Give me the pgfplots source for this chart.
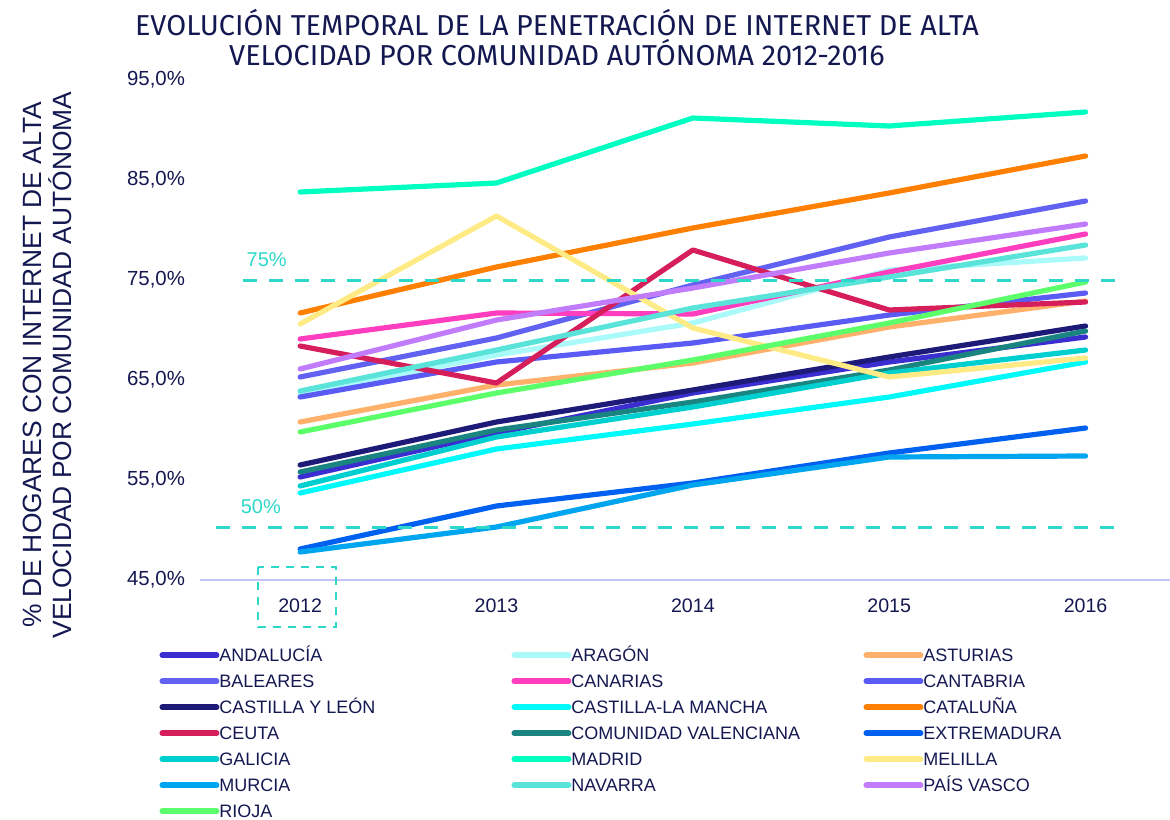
\documentclass[border=0pt]{standalone}
\usepackage{fontspec}
\setmainfont{Liberation Sans}
\newfontfamily\titlefont{Fira Sans}
\usepackage{pgfplots}
\pgfplotsset{compat=1.18}
\definecolor{navy}{HTML}{141850}
\definecolor{lav}{HTML}{C4C4F8}
\definecolor{turq}{HTML}{2ED8C8}
\definecolor{cAnd}{HTML}{3A2ED0}
\definecolor{cAra}{HTML}{AAFAFA}
\definecolor{cAst}{HTML}{FFB06A}
\definecolor{cBal}{HTML}{6262F2}
\definecolor{cCan}{HTML}{FF3DBF}
\definecolor{cCnt}{HTML}{5A5AF5}
\definecolor{cCyL}{HTML}{1E1A78}
\definecolor{cCLM}{HTML}{00FAFA}
\definecolor{cCat}{HTML}{FF8000}
\definecolor{cCeu}{HTML}{D61E5A}
\definecolor{cCV}{HTML}{1A8580}
\definecolor{cExt}{HTML}{0060F0}
\definecolor{cGal}{HTML}{00CFCF}
\definecolor{cMad}{HTML}{00FFC0}
\definecolor{cMel}{HTML}{FFEB85}
\definecolor{cMur}{HTML}{00A5F0}
\definecolor{cNav}{HTML}{5AE3D8}
\definecolor{cPV}{HTML}{C07CFA}
\definecolor{cRio}{HTML}{5CFF6A}
\newcommand{\legtxt}[1]{\makebox[146pt][l]{#1}}
\begin{document}
\begin{tikzpicture}
\begin{axis}[
  name=ax,
  scale only axis,
  width=485pt, height=250pt,
  xmin=2011.49, xmax=2016.43,
  ymin=45, ymax=95,
  clip=false,
  axis x line*=bottom, axis y line*=left,
  x axis line style={draw=lav, line width=1pt},
  y axis line style={draw=none},
  major tick length=0pt,
  xtick={2012,2013,2014,2015,2016},
  xticklabels={2012,2013,2014,2015,2016},
  ytick={45,55,65,75,85,95},
  yticklabels={{45,0\%},{55,0\%},{65,0\%},{75,0\%},{85,0\%},{95,0\%}},
  xticklabel style={font=\fontsize{9.8}{11}\selectfont, text=navy, yshift=-6pt},
  yticklabel style={font=\fontsize{10.2}{11}\selectfont, text=navy, xshift=-4pt},
  every axis plot/.append style={line width=2.6pt, line cap=round, line join=round, mark=none},
  legend columns=3,
  legend style={at={(axis description cs:-0.0484,-0.122)}, anchor=north west, draw=none, fill=none,
    font=\fontsize{9}{10}\selectfont, text=navy,
    nodes={inner ysep=1.5pt, inner xsep=0pt, text height=6.5pt, text depth=1.5pt},
    /tikz/column sep=0pt, /tikz/row sep=2pt},
  legend image code/.code={\draw[#1, line width=3pt, line cap=round] (0pt,0.6pt) -- (27pt,0.6pt);},
]
\addplot[cAnd] coordinates {(2012,55.3)(2013,59.7)(2014,63.7)(2015,66.8)(2016,69.3)};
\addlegendentry{\legtxt{ANDALUCÍA}}
\addplot[cAra] coordinates {(2012,63.6)(2013,67.5)(2014,70.7)(2015,76.0)(2016,77.2)};
\addlegendentry{\legtxt{ARAGÓN}}
\addplot[cAst] coordinates {(2012,60.8)(2013,64.5)(2014,66.7)(2015,70.3)(2016,72.9)};
\addlegendentry{\legtxt{ASTURIAS}}
\addplot[cBal] coordinates {(2012,65.3)(2013,69.2)(2014,74.5)(2015,79.3)(2016,82.9)};
\addlegendentry{\legtxt{BALEARES}}
\addplot[cCan] coordinates {(2012,69.1)(2013,71.7)(2014,71.6)(2015,75.8)(2016,79.6)};
\addlegendentry{\legtxt{CANARIAS}}
\addplot[cCnt] coordinates {(2012,63.3)(2013,66.8)(2014,68.7)(2015,71.5)(2016,73.7)};
\addlegendentry{\legtxt{CANTABRIA}}
\addplot[cCyL] coordinates {(2012,56.5)(2013,60.8)(2014,64.0)(2015,67.3)(2016,70.4)};
\addlegendentry{\legtxt{CASTILLA Y LEÓN}}
\addplot[cCLM] coordinates {(2012,53.7)(2013,58.1)(2014,60.6)(2015,63.3)(2016,66.8)};
\addlegendentry{\legtxt{CASTILLA-LA MANCHA}}
\addplot[cCat] coordinates {(2012,71.7)(2013,76.3)(2014,80.2)(2015,83.7)(2016,87.4)};
\addlegendentry{\legtxt{CATALUÑA}}
\addplot[cCeu] coordinates {(2012,68.4)(2013,64.7)(2014,78.0)(2015,72.0)(2016,72.8)};
\addlegendentry{\legtxt{CEUTA}}
\addplot[cCV] coordinates {(2012,55.8)(2013,60.0)(2014,62.8)(2015,66.0)(2016,69.9)};
\addlegendentry{\legtxt{COMUNIDAD VALENCIANA}}
\addplot[cExt] coordinates {(2012,48.1)(2013,52.4)(2014,54.7)(2015,57.7)(2016,60.2)};
\addlegendentry{\legtxt{EXTREMADURA}}
\addplot[cGal] coordinates {(2012,54.4)(2013,59.3)(2014,62.3)(2015,65.7)(2016,68.0)};
\addlegendentry{\legtxt{GALICIA}}
\addplot[cMad] coordinates {(2012,83.8)(2013,84.7)(2014,91.2)(2015,90.4)(2016,91.8)};
\addlegendentry{\legtxt{MADRID}}
\addplot[cMel] coordinates {(2012,70.6)(2013,81.4)(2014,70.2)(2015,65.3)(2016,67.2)};
\addlegendentry{\legtxt{MELILLA}}
\addplot[cMur] coordinates {(2012,47.8)(2013,50.3)(2014,54.5)(2015,57.3)(2016,57.4)};
\addlegendentry{\legtxt{MURCIA}}
\addplot[cNav] coordinates {(2012,63.9)(2013,68.0)(2014,72.2)(2015,75.3)(2016,78.5)};
\addlegendentry{\legtxt{NAVARRA}}
\addplot[cPV] coordinates {(2012,66.1)(2013,71.0)(2014,74.2)(2015,77.7)(2016,80.6)};
\addlegendentry{\legtxt{PAÍS VASCO}}
\addplot[cRio] coordinates {(2012,59.8)(2013,63.7)(2014,67.0)(2015,70.7)(2016,74.8)};
\addlegendentry{\legtxt{RIOJA}}
% reference lines and annotations
\draw[turq, line width=1.5pt, dash pattern=on 7pt off 6pt] (axis cs:2011.71,75) -- (axis cs:2016.204,75);
\draw[turq, line width=1.5pt, dash pattern=on 7pt off 6pt] (axis cs:2011.572,50.3) -- (axis cs:2016.204,50.3);
\node[text=turq, font=\fontsize{10}{12}\selectfont] at (axis cs:2011.83,77) {75\%};
\node[text=turq, font=\fontsize{10}{12}\selectfont] at (axis cs:2011.80,52.3) {50\%};
\draw[turq, line width=1.2pt, dash pattern=on 4pt off 3.5pt] (axis cs:2011.786,46.3) rectangle (axis cs:2012.183,40.3);
\node[text=navy, align=center, font=\titlefont\fontsize{14.4}{15}\selectfont] at (axis description cs:0.368,1.084)
  {EVOLUCIÓN TEMPORAL DE LA PENETRACIÓN DE INTERNET DE ALTA\\VELOCIDAD POR COMUNIDAD AUTÓNOMA 2012-2016};
\node[text=navy, align=center, rotate=90, font=\fontsize{13.2}{15}\selectfont] at (axis description cs:-0.157,0.43)
  {\% DE HOGARES CON INTERNET DE ALTA\\VELOCIDAD POR COMUNIDAD AUTÓNOMA};
\end{axis}
\pgfresetboundingbox
\path[use as bounding box] ([shift={(-100pt,-119.5pt)}]ax.south west) rectangle ([shift={(485pt,290pt)}]ax.south west);
\end{tikzpicture}
\end{document}
